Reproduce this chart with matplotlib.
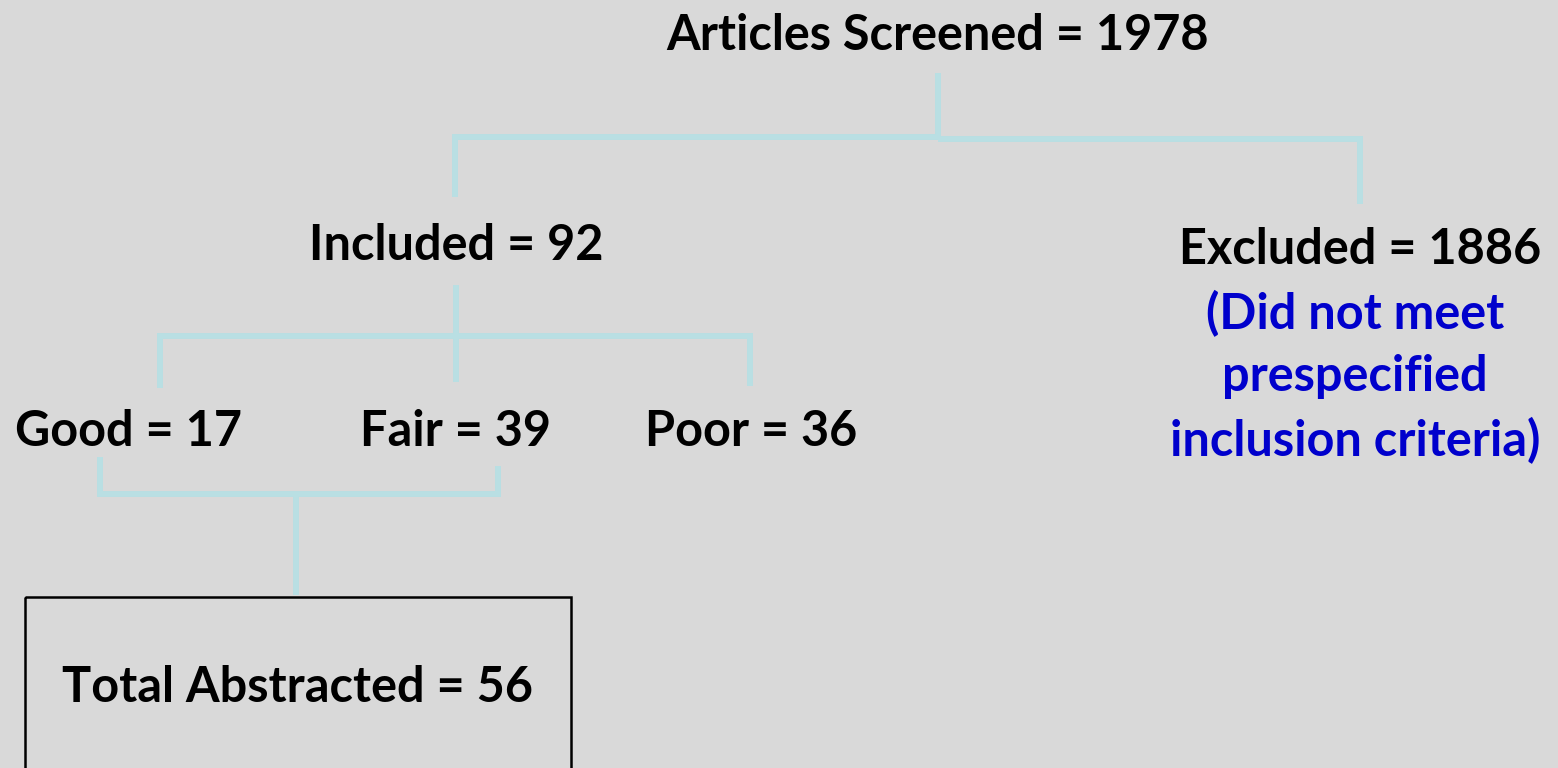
import matplotlib.pyplot as plt

# counts from the flow diagram
stages = ["Articles Screened", "Included", "Excluded"]
stage_counts = [1978, 92, 1886]
quality = ["Good", "Fair", "Poor"]
quality_counts = [17, 39, 36]
abstracted_label = "Total Abstracted"
abstracted_count = 56
excluded_note = "(Did not meet\nprespecified\ninclusion criteria)"

bg = "#D9D9D9"
line_col = "#B9DFE3"
lw = 4.3
font = ["Lato", "DejaVu Sans"]
fs = 35

fig = plt.figure(figsize=(15.58, 7.68), dpi=100, facecolor=bg)
ax = fig.add_axes([0, 0, 1, 1])
ax.set_xlim(0, 1558)
ax.set_ylim(768, 0)
ax.axis("off")
ax.set_facecolor(bg)


def seg(xs, ys):
    ax.plot(xs, ys, color=line_col, lw=lw, solid_capstyle="butt", solid_joinstyle="miter")


def label(x, y, txt, color="black", **kw):
    ax.text(x, y, txt, ha="center", va="center", fontsize=fs, fontweight="bold",
            family=font, color=color, **kw)


# top level
label(938, 35, f"{stages[0]} = {stage_counts[0]}")
seg([938, 938], [73, 137])
seg([455, 455, 938], [197, 137, 137])
seg([938, 1360, 1360], [139, 139, 204])

label(456, 245, f"{stages[1]} = {stage_counts[1]}")
label(1360, 249, f"{stages[2]} = {stage_counts[2]}")
label(1355, 377, excluded_note, color="#0000CC", linespacing=1.46)

# quality split
seg([456, 456], [285, 382])
seg([160, 160, 750, 750], [388, 336, 336, 386])
qx = [129, 456, 751]
for x, q, c in zip(qx, quality, quality_counts):
    label(x, 432, f"{q} = {c}")

# merge good + fair
seg([100, 100, 498, 498], [457, 494, 494, 466])
seg([296, 296], [494, 595])

ax.add_patch(plt.Rectangle((25, 597), 546, 200, facecolor="none", edgecolor="black", lw=1.8))
label(298, 687, f"{abstracted_label} = {abstracted_count}")

fig.savefig("out.png", dpi=100, facecolor=bg)
